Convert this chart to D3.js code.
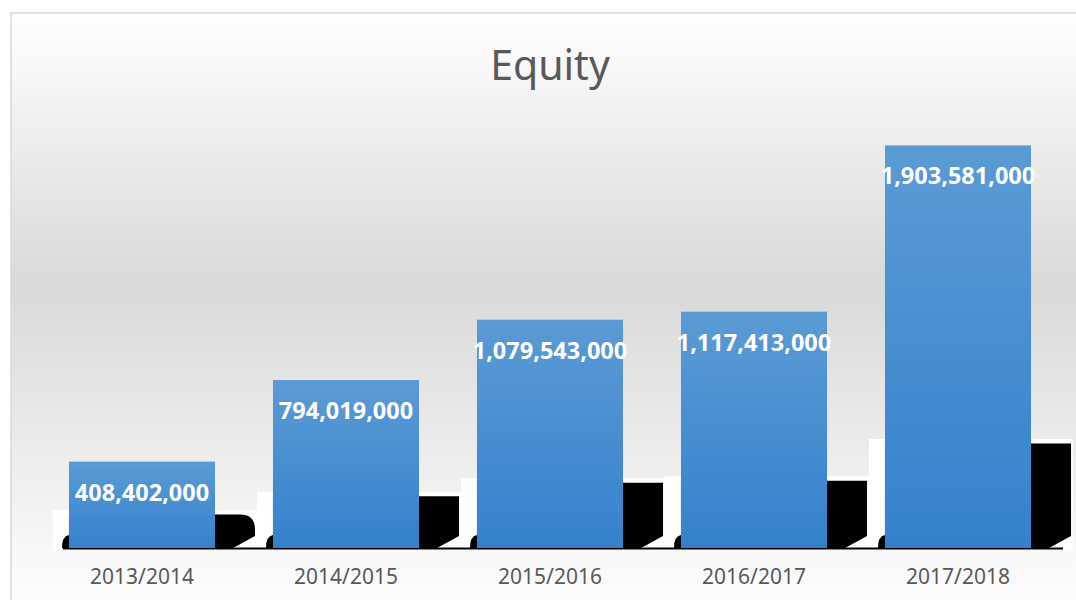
<!DOCTYPE html>
<html>
<head>
<meta charset="utf-8">
<script src="https://cdn.jsdelivr.net/npm/d3@7"></script>
<style>
  body { margin: 0; background: #fff; }
  svg { display: block; }
</style>
</head>
<body>
<div id="content"></div>
<script>
const w = 1076
const h = 600

const categories = ["2013/2014", "2014/2015", "2015/2016", "2016/2017", "2017/2018"];
const equity = [408402000, 794019000, 1079543000, 1117413000, 1903581000];
const title = "Equity";

let dataset = categories.map((c, i) => ({ year: c, value: equity[i] }));

let svg = d3.select("#content")
            .append("svg")
            .attr("width", w)
            .attr("height", h)

let defs = svg.append("defs");

// background gradient (white -> grey -> white)
let bg = defs.append("linearGradient")
  .attr("id", "bg")
  .attr("gradientUnits", "userSpaceOnUse")
  .attr("x1", 0).attr("y1", 13).attr("x2", 0).attr("y2", 600);
bg.append("stop").attr("offset", 0).attr("stop-color", "#ffffff");
bg.append("stop").attr("offset", 0.46).attr("stop-color", "#d9d9d9");
bg.append("stop").attr("offset", 1).attr("stop-color", "#fdfdfd");

let barGrad = defs.append("linearGradient")
  .attr("id", "barGrad")
  .attr("x1", 0).attr("y1", 0).attr("x2", 0).attr("y2", 1);
barGrad.append("stop").attr("offset", 0).attr("stop-color", "#5b9bd5");
barGrad.append("stop").attr("offset", 1).attr("stop-color", "#3481cb");

svg.append("rect")
  .attr("x", 11).attr("y", 13)
  .attr("width", w).attr("height", h)
  .attr("fill", "url(#bg)")
  .attr("stroke", "#d9d9d9")
  .attr("stroke-width", 1.5);

const base = 548;

let x = d3.scaleBand()
  .domain(categories)
  .range([40, 1060])
  .paddingInner(0.284)
  .paddingOuter(0.142);

let y = d3.scaleLinear()
  .domain([0, 2000000000])
  .range([base, 125]);

const bw = x.bandwidth();

// shadow height follows the bar height
function shadowTop(d) {
  let bh = base - y(d.value);
  return base - (14 + 0.225 * bh);
}

// white backing plates
svg.selectAll("rect.plate")
  .data(dataset)
  .enter()
  .append("rect")
    .attr("class", "plate")
    .attr("x", d => x(d.year) - 16)
    .attr("y", d => shadowTop(d) - 4.5)
    .attr("width", bw + 58)
    .attr("height", d => base + 2 - (shadowTop(d) - 4.5))
    .attr("fill", "#ffffff");

// black shadows
svg.selectAll("path.shadow")
  .data(dataset)
  .enter()
  .append("path")
    .attr("class", "shadow")
    .attr("fill", "#000")
    .attr("d", d => {
      let l = x(d.year) - 7, r = x(d.year) + bw + 40, t = shadowTop(d);
      let rr = (base - t) < 40 ? 15 : 0;
      let p = d3.path();
      p.moveTo(l + 7, t);
      p.lineTo(r - rr, t);
      if (rr) p.quadraticCurveTo(r, t, r, t + rr);
      p.lineTo(r, base - 12);
      p.lineTo(r - 22, base);
      p.lineTo(l, base);
      p.quadraticCurveTo(l, base - 12, l + 7, base - 13);
      p.closePath();
      return p.toString();
    });

// baseline
svg.append("line")
  .attr("x1", x(categories[0]) - 6)
  .attr("x2", x(categories[categories.length - 1]) + bw + 32)
  .attr("y1", base + 0.5).attr("y2", base + 0.5)
  .attr("stroke", "#000")
  .attr("stroke-width", 2);

svg.selectAll("rect.bar")
  .data(dataset)
  .enter()
  .append("rect")
    .attr("class", "bar")
    .attr("x", d => x(d.year))
    .attr("y", d => y(d.value))
    .attr("width", bw)
    .attr("height", d => base - y(d.value))
    .attr("fill", "url(#barGrad)");

svg.selectAll("text.label")
  .data(dataset)
  .enter()
  .append("text")
    .attr("class", "label")
    .attr("x", d => x(d.year) + bw / 2)
    .attr("y", d => y(d.value) + 39)
    .attr("text-anchor", "middle")
    .attr("fill", "#ffffff")
    .style("font-family", "'Noto Sans', sans-serif")
    .style("font-weight", "bold")
    .style("font-size", "23.5px")
    .text(d => d3.format(",")(d.value));

let axis = svg.append("g")
  .attr("transform", "translate(0," + base + ")")
  .call(d3.axisBottom(x).tickSize(0).tickPadding(21));
axis.select(".domain").remove();
axis.selectAll("text")
  .attr("fill", "#595959")
  .style("font-family", "'Noto Sans', sans-serif")
  .style("font-size", "21px");

svg.append("text")
  .attr("x", 550)
  .attr("y", 80)
  .attr("text-anchor", "middle")
  .attr("fill", "#595959")
  .style("font-family", "'Noto Sans', sans-serif")
  .style("font-size", "41px")
  .text(title);
</script>
</body>
</html>
